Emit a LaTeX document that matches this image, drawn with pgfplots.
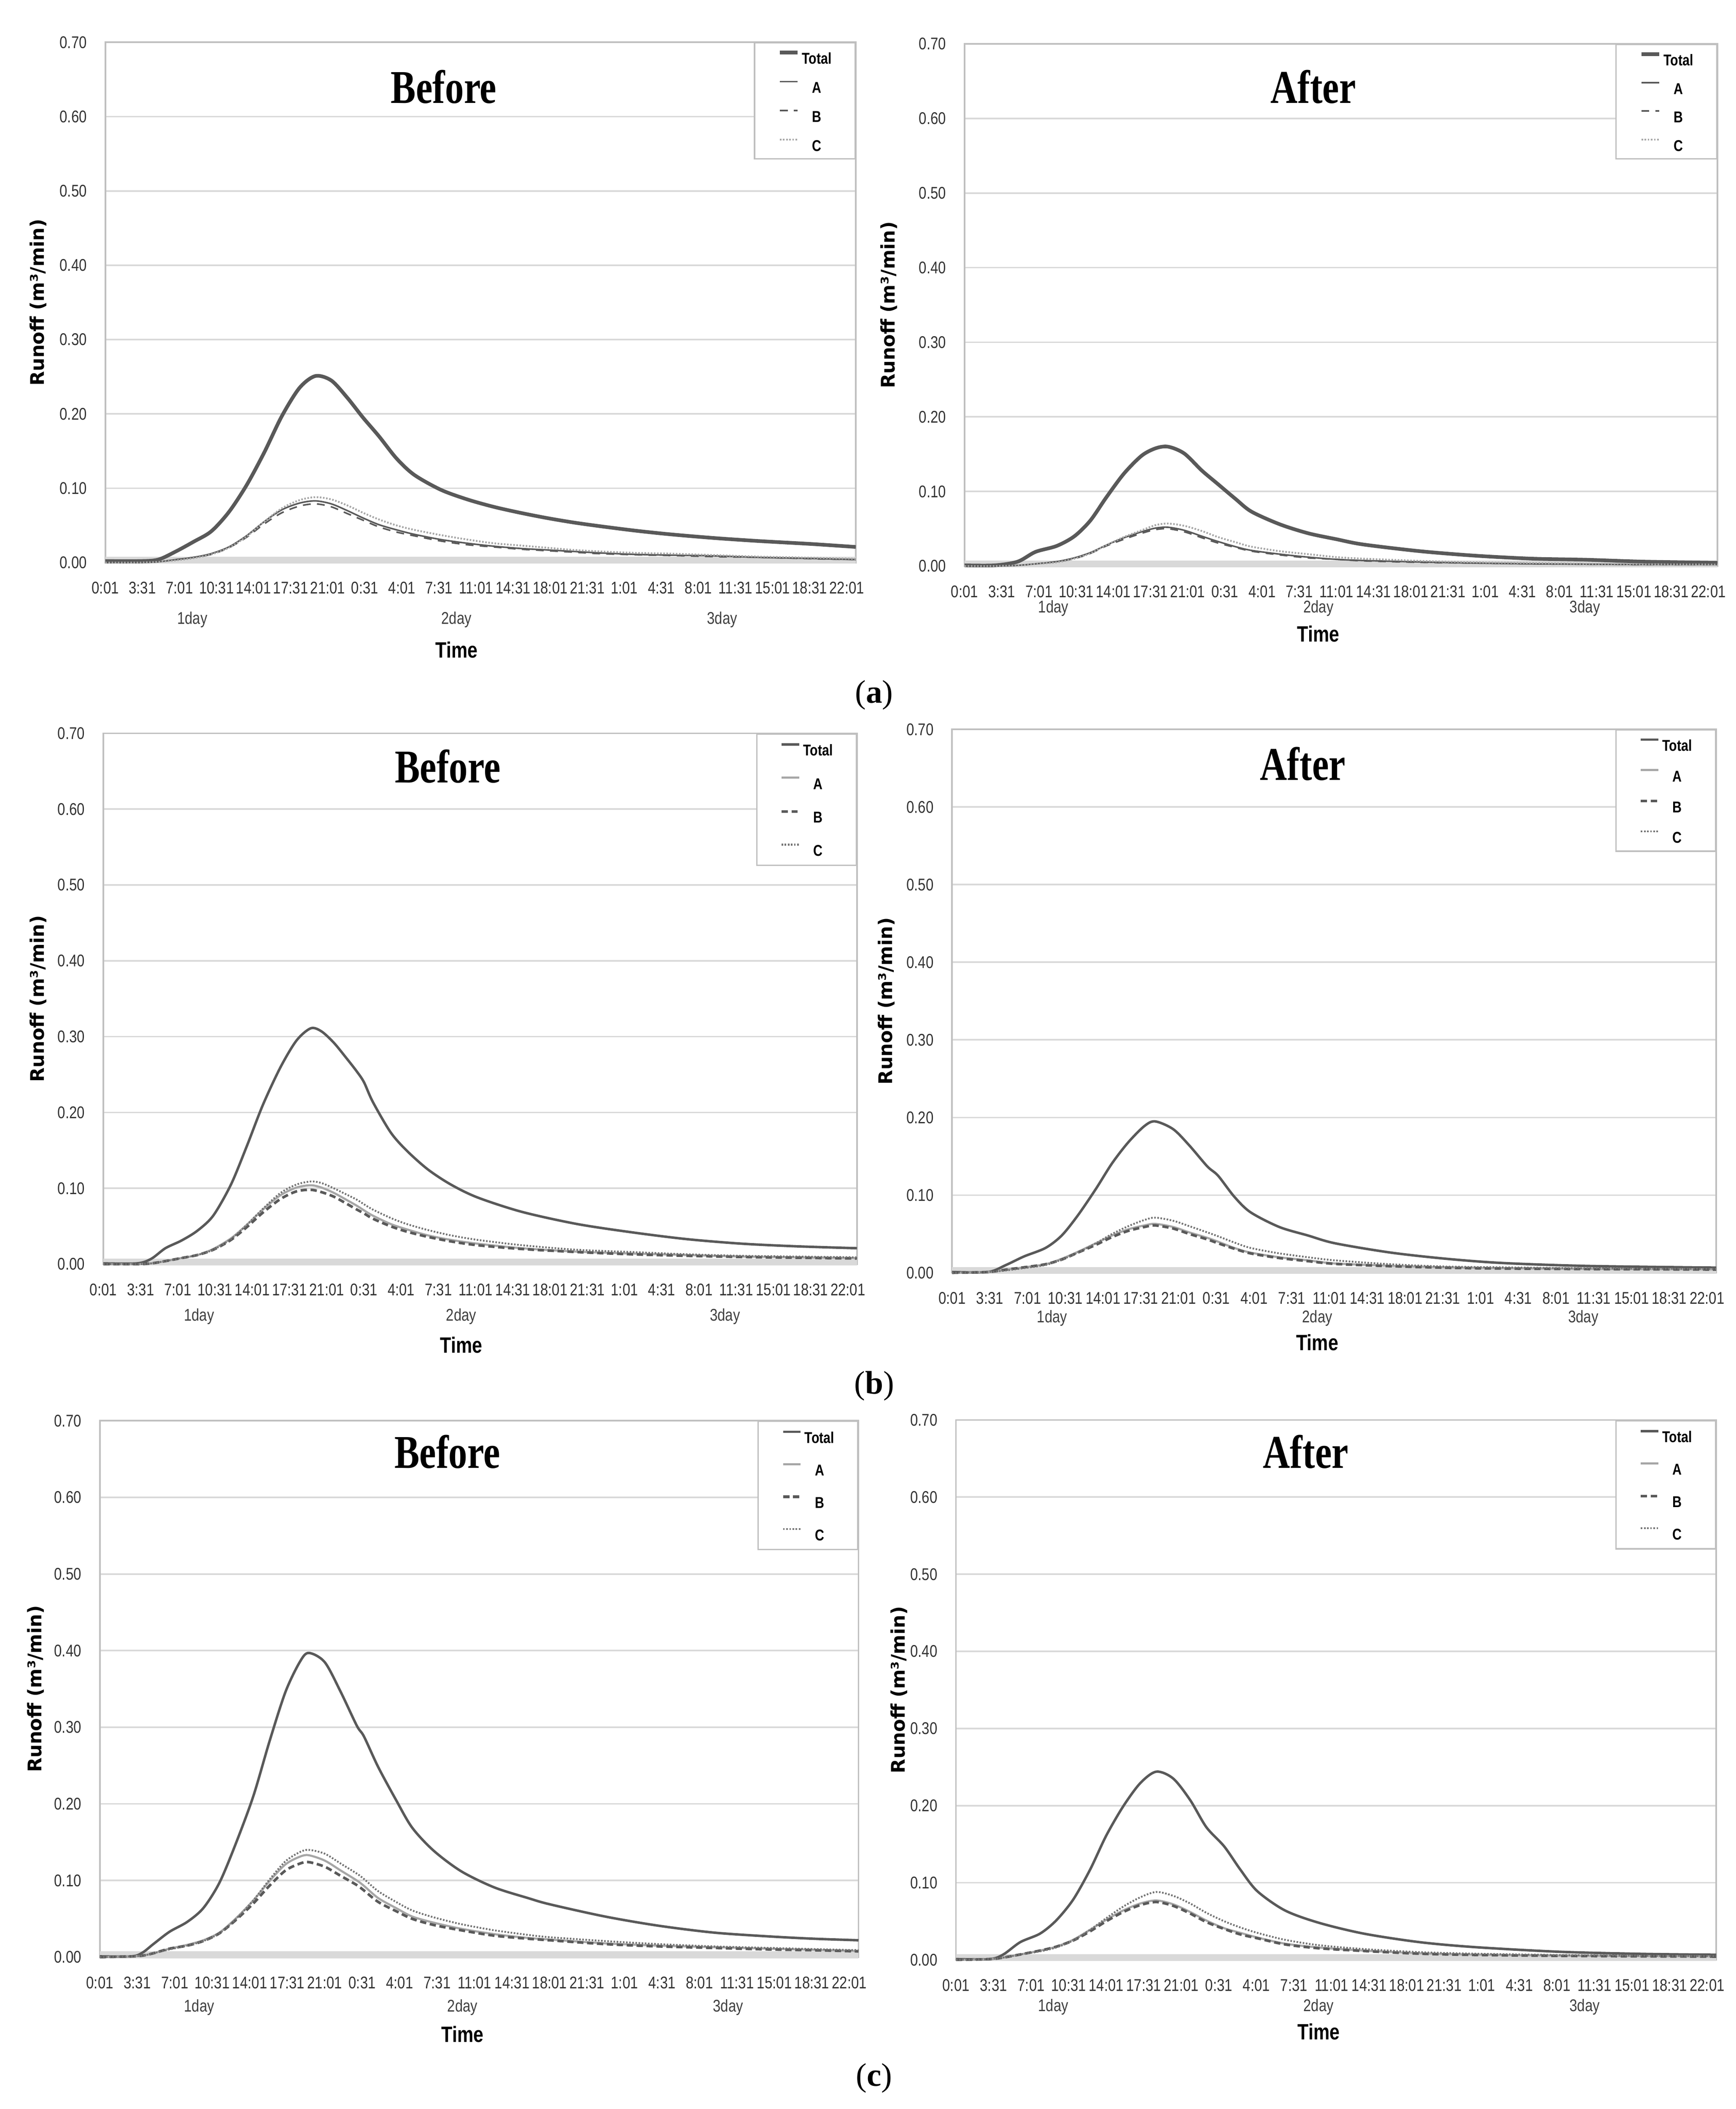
\documentclass[border=0pt]{standalone}
\usepackage{fontspec}
\usepackage{pgfplots}
\usepackage{pgfplotstable}
\pgfplotsset{compat=1.18}

\setmainfont{Liberation Serif}
\newfontfamily\narrow[FakeStretch=0.82]{Liberation Sans}
\newfontfamily\headfont[FakeStretch=0.8]{Liberation Serif}
\newfontfamily\yfont{DejaVu Sans}

\definecolor{dgray}{HTML}{595959}
\definecolor{lgray}{HTML}{A6A6A6}
\definecolor{gridgray}{HTML}{D9D9D9}
\definecolor{boxgray}{HTML}{BFBFBF}

% t = minutes after 0:01 of day 1
\pgfplotstableread{
t     tot    a      b      c
0     0.002  0.000  0.000  0.000
200   0.002  0.000  0.000  0.000
300   0.004  0.001  0.001  0.001
400   0.015  0.004  0.004  0.003
500   0.028  0.007  0.007  0.006
600   0.042  0.012  0.011  0.011
700   0.068  0.021  0.020  0.020
800   0.104  0.036  0.034  0.035
900   0.148  0.055  0.052  0.055
1000  0.197  0.071  0.067  0.073
1100  0.235  0.080  0.076  0.084
1190  0.251  0.083  0.079  0.088
1280  0.245  0.079  0.075  0.085
1370  0.222  0.070  0.066  0.077
1460  0.195  0.060  0.057  0.067
1550  0.170  0.051  0.048  0.058
1650  0.140  0.044  0.041  0.050
1750  0.118  0.038  0.036  0.044
1900  0.098  0.031  0.029  0.037
2050  0.085  0.026  0.024  0.031
2200  0.075  0.022  0.021  0.026
2350  0.067  0.019  0.018  0.023
2500  0.060  0.017  0.016  0.020
2650  0.054  0.015  0.014  0.017
2800  0.049  0.013  0.012  0.015
3000  0.043  0.011  0.0105 0.013
3200  0.038  0.010  0.0095 0.012
3450  0.033  0.009  0.008  0.010
3700  0.029  0.007  0.007  0.008
4000  0.025  0.0055 0.0052 0.0065
4251  0.021  0.004  0.004  0.005
}\aBefore

\pgfplotstableread{
t     tot     a       b       c
0     0.001   0.000   0.000   0.000
170   0.001   0.000   0.000   0.000
300   0.006   0.001   0.001   0.001
400   0.019   0.003   0.003   0.003
520   0.027   0.006   0.006   0.005
620   0.040   0.011   0.010   0.010
710   0.061   0.018   0.017   0.017
800   0.092   0.028   0.027   0.028
900   0.124   0.038   0.036   0.039
1000  0.148   0.046   0.044   0.048
1080  0.158   0.051   0.049   0.055
1150  0.160   0.052   0.050   0.057
1240  0.151   0.048   0.046   0.054
1340  0.128   0.040   0.038   0.047
1430  0.110   0.033   0.031   0.039
1530  0.090   0.026   0.025   0.032
1620  0.073   0.021   0.020   0.026
1780  0.056   0.016   0.015   0.020
1940  0.044   0.012   0.011   0.016
2100  0.036   0.009   0.009   0.012
2250  0.029   0.0075  0.007   0.010
2570  0.020   0.0055  0.005   0.007
2880  0.014   0.004   0.004   0.005
3200  0.010   0.003   0.003   0.004
3510  0.0085  0.0025  0.0025  0.003
3830  0.006   0.002   0.002   0.0025
4251  0.0045  0.002   0.002   0.002
}\aAfter

\pgfplotstableread{
t     tot     a       b       c
0     0.001   0.000   0.000   0.000
190   0.001   0.000   0.000   0.000
270   0.007   0.001   0.001   0.001
350   0.021   0.004   0.004   0.004
440   0.031   0.008   0.008   0.008
530   0.044   0.012   0.012   0.012
620   0.064   0.020   0.019   0.019
720   0.105   0.034   0.032   0.033
810   0.156   0.052   0.049   0.052
900   0.210   0.072   0.068   0.073
1000  0.260   0.091   0.086   0.094
1090  0.295   0.101   0.096   0.105
1170  0.311   0.104   0.098   0.109
1230  0.307   0.101   0.095   0.107
1300  0.292   0.094   0.089   0.100
1370  0.272   0.085   0.080   0.092
1430  0.254   0.077   0.072   0.085
1470  0.240   0.071   0.067   0.079
1520  0.214   0.064   0.060   0.072
1620  0.174   0.053   0.050   0.061
1710  0.150   0.046   0.043   0.053
1830  0.125   0.038   0.036   0.045
1960  0.105   0.032   0.030   0.038
2110  0.088   0.027   0.025   0.032
2360  0.069   0.021   0.020   0.025
2670  0.053   0.0165  0.016   0.019
2980  0.042   0.014   0.013   0.016
3290  0.033   0.012   0.011   0.013
3600  0.027   0.010   0.0095  0.011
3910  0.0235  0.009   0.0085  0.010
4251  0.021   0.008   0.0075  0.009
}\bBefore

\pgfplotstableread{
t     tot     a       b       c
0     0.001   0.000   0.000   0.000
200   0.001   0.001   0.001   0.001
300   0.010   0.004   0.004   0.003
400   0.021   0.007   0.007   0.006
520   0.032   0.011   0.011   0.010
610   0.048   0.018   0.017   0.017
700   0.074   0.027   0.026   0.026
800   0.108   0.038   0.036   0.038
890   0.141   0.048   0.046   0.050
980   0.168   0.056   0.054   0.060
1070  0.189   0.061   0.059   0.068
1130  0.195   0.063   0.061   0.071
1230  0.185   0.059   0.057   0.067
1320  0.164   0.052   0.050   0.060
1420  0.137   0.045   0.043   0.052
1480  0.125   0.040   0.038   0.047
1570  0.098   0.032   0.031   0.039
1660  0.078   0.026   0.025   0.032
1820  0.059   0.020   0.019   0.025
1980  0.048   0.016   0.015   0.020
2130  0.038   0.012   0.0115  0.016
2440  0.026   0.009   0.0085  0.011
2750  0.018   0.007   0.0065  0.008
3060  0.0126  0.006   0.0055  0.007
3530  0.0088  0.005   0.0048  0.0058
4251  0.0066  0.0044  0.0042  0.005
}\bAfter

\pgfplotstableread{
t     tot    a      b       c
0     0.001  0.000  0.000   0.000
180   0.001  0.001  0.001   0.001
240   0.006  0.002  0.002   0.002
300   0.017  0.005  0.005   0.005
390   0.033  0.011  0.011   0.010
490   0.046  0.016  0.015   0.015
580   0.064  0.022  0.021   0.021
670   0.097  0.032  0.031   0.031
760   0.147  0.050  0.048   0.049
860   0.210  0.074  0.070   0.074
950   0.281  0.099  0.093   0.101
1040  0.346  0.121  0.113   0.125
1120  0.385  0.131  0.122   0.137
1170  0.397  0.133  0.124   0.140
1260  0.385  0.126  0.118   0.135
1350  0.346  0.113  0.106   0.122
1440  0.302  0.100  0.094   0.109
1480  0.288  0.093  0.087   0.102
1560  0.248  0.077  0.072   0.086
1660  0.205  0.064  0.060   0.072
1750  0.169  0.053  0.050   0.061
1870  0.139  0.045  0.042   0.052
2025  0.112  0.037  0.035   0.043
2210  0.091  0.030  0.028   0.035
2400  0.077  0.025  0.024   0.029
2520  0.069  0.023  0.022   0.026
2830  0.053  0.018  0.017   0.021
3130  0.041  0.015  0.014   0.017
3440  0.032  0.013  0.012   0.014
3750  0.027  0.011  0.010   0.012
4000  0.024  0.0095 0.009   0.0105
4251  0.022  0.008  0.0075  0.009
}\cBefore

\pgfplotstableread{
t     tot     a       b       c
0     0.001   0.000   0.000   0.000
190   0.001   0.001   0.001   0.001
265   0.007   0.003   0.003   0.003
360   0.023   0.007   0.007   0.007
470   0.034   0.012   0.012   0.011
560   0.051   0.017   0.017   0.016
655   0.078   0.026   0.025   0.025
750   0.117   0.039   0.037   0.039
840   0.161   0.052   0.050   0.054
935   0.199   0.064   0.062   0.069
1030  0.229   0.073   0.071   0.081
1120  0.244   0.077   0.075   0.088
1215  0.235   0.072   0.070   0.083
1310  0.207   0.062   0.060   0.073
1400  0.172   0.051   0.049   0.061
1500  0.147   0.041   0.040   0.050
1590  0.117   0.035   0.033   0.042
1685  0.089   0.029   0.028   0.035
1840  0.064   0.021   0.020   0.026
2030  0.048   0.016   0.015   0.019
2280  0.034   0.012   0.0115  0.014
2590  0.023   0.0085  0.008   0.010
2900  0.0165  0.0068  0.0064  0.008
3370  0.0105  0.0055  0.0052  0.0063
3840  0.0077  0.0048  0.0046  0.0054
4251  0.0066  0.0044  0.0042  0.0048
}\cAfter

\pgfplotsset{
  legend image code/.code={\draw[#1] (0pt,2.2pt) -- (6.75pt,2.2pt);},
  panel/.style={
    scale only axis, anchor=north west, clip=false, no markers,
    xmin=0, xmax=4251, ymin=0, ymax=0.7,
    xtick={0,210,...,4200},
    xticklabels={0:01,3:31,7:01,10:31,14:01,17:31,21:01,0:31,4:01,7:31,11:01,14:31,18:01,21:31,1:01,4:31,8:01,11:31,15:01,18:31,22:01},
    ytick={0,0.1,0.2,0.3,0.4,0.5,0.6,0.7},
    major tick length=0pt,
    ymajorgrids, major grid style={gridgray, line width=0.6pt},
    axis line style={boxgray, line width=0.6pt},
    tick label style={font=\narrow\fontsize{6.5}{7}\selectfont, text=black!80, inner sep=0pt},
    x tick label style={anchor=center, yshift=-9.75pt},
    y tick label style={anchor=east, xshift=-6.9pt, /pgf/number format/.cd, fixed, fixed zerofill, precision=2, assume math mode=true},
    extra y ticks={0.003}, extra y tick labels={},
    extra y tick style={ymajorgrids=true, major grid style={gridgray, line width=2.6pt}},
    legend cell align=center,
    legend style={at={(1,1)}, anchor=north east, draw=boxgray, line width=0.5pt, fill=white,
      font=\narrow\bfseries\fontsize{6}{6}\selectfont, inner xsep=9pt, inner ysep=3pt,
      row sep=6.4pt, column sep=1pt,
      nodes={inner sep=0pt, text height=4.4pt, text depth=0pt}},
  },
  % panel (a) lines
  tA/.style={dgray, line width=1.4pt, smooth},
  aA/.style={dgray, line width=0.6pt, smooth},
  bA/.style={dgray, line width=0.6pt, dash pattern=on 3pt off 2.4pt, smooth},
  cA/.style={lgray, line width=0.7pt, dash pattern=on 0.6pt off 0.6pt, smooth},
  % panels (b) and (c) lines
  tB/.style={dgray, line width=0.95pt, smooth},
  aB/.style={lgray, line width=0.8pt, smooth},
  bB/.style={dgray, line width=1pt, dash pattern=on 2.4pt off 1.4pt, smooth},
  cB/.style={black!55, line width=0.7pt, dash pattern=on 0.6pt off 0.6pt, smooth},
}

\newcommand\titletxt[1]{\headfont\bfseries\fontsize{18}{18}\selectfont #1}
\newcommand\smalltxt{\narrow\fontsize{6.5}{7}\selectfont}
\newcommand\timetxt{\narrow\bfseries\fontsize{8.5}{9}\selectfont}
\newcommand\ytxt{\yfont\bfseries\fontsize{7.2}{8}\selectfont}

\begin{document}
\begin{tikzpicture}
\useasboundingbox (0,0) rectangle (665.1pt,-808.05pt);

% ---------- (a) before ----------
\begin{axis}[panel, at={(40.35pt,-16.2pt)}, width=287.55pt, height=199.35pt]
  \addplot[tA] table[x=t,y=tot]{\aBefore}; \addlegendentry{Total}
  \addplot[aA] table[x=t,y=a]{\aBefore};   \addlegendentry{A}
  \addplot[bA] table[x=t,y=b]{\aBefore};   \addlegendentry{B}
  \addplot[cA] table[x=t,y=c]{\aBefore};   \addlegendentry{C}
  \node[font=\titletxt{}] at (rel axis cs:0.451,0.914) {Before};
  \node[font=\smalltxt, text=black!75] at ([yshift=-21.9pt]rel axis cs:0.116,0) {1day};
  \node[font=\smalltxt, text=black!75] at ([yshift=-21.9pt]rel axis cs:0.468,0) {2day};
  \node[font=\smalltxt, text=black!75] at ([yshift=-21.9pt]rel axis cs:0.822,0) {3day};
  \node[font=\timetxt] at ([yshift=-33.45pt]rel axis cs:0.468,0) {Time};
  \node[font=\ytxt, rotate=90] at ([xshift=-25.65pt]rel axis cs:0,0.5) {Runoff\,\,(m³/min)};
\end{axis}

% ---------- (a) after ----------
\begin{axis}[panel, at={(369.6pt,-16.8pt)}, width=288.45pt, height=200.1pt,
  legend style={row sep=6.2pt}]
  \addplot[tA] table[x=t,y=tot]{\aAfter}; \addlegendentry{Total}
  \addplot[aA] table[x=t,y=a]{\aAfter};   \addlegendentry{A}
  \addplot[bA] table[x=t,y=b]{\aAfter};   \addlegendentry{B}
  \addplot[cA] table[x=t,y=c]{\aAfter};   \addlegendentry{C}
  \node[font=\titletxt{}] at (rel axis cs:0.463,0.918) {After};
  \node[font=\smalltxt, text=black!75] at ([yshift=-16.2pt]rel axis cs:0.118,0) {1day};
  \node[font=\smalltxt, text=black!75] at ([yshift=-16.2pt]rel axis cs:0.470,0) {2day};
  \node[font=\smalltxt, text=black!75] at ([yshift=-16.2pt]rel axis cs:0.824,0) {3day};
  \node[font=\timetxt] at ([yshift=-25.95pt]rel axis cs:0.470,0) {Time};
  \node[font=\ytxt, rotate=90] at ([xshift=-28.95pt]rel axis cs:0,0.5) {Runoff\,\,(m³/min)};
\end{axis}

% ---------- (b) before ----------
\begin{axis}[panel, at={(39.6pt,-280.95pt)}, width=288.75pt, height=203.4pt,
  legend style={row sep=8pt, inner ysep=3.5pt}]
  \addplot[tB] table[x=t,y=tot]{\bBefore}; \addlegendentry{Total}
  \addplot[aB] table[x=t,y=a]{\bBefore};   \addlegendentry{A}
  \addplot[bB] table[x=t,y=b]{\bBefore};   \addlegendentry{B}
  \addplot[cB] table[x=t,y=c]{\bBefore};   \addlegendentry{C}
  \node[font=\titletxt{}] at (rel axis cs:0.457,0.938) {Before};
  \node[font=\smalltxt, text=black!75] at ([yshift=-20pt]rel axis cs:0.127,0) {1day};
  \node[font=\smalltxt, text=black!75] at ([yshift=-20pt]rel axis cs:0.475,0) {2day};
  \node[font=\smalltxt, text=black!75] at ([yshift=-20pt]rel axis cs:0.825,0) {3day};
  \node[font=\timetxt] at ([yshift=-31pt]rel axis cs:0.475,0) {Time};
  \node[font=\ytxt, rotate=90] at ([xshift=-24.9pt]rel axis cs:0,0.5) {Runoff\,\,(m³/min)};
\end{axis}

% ---------- (b) after ----------
\begin{axis}[panel, at={(364.8pt,-279.45pt)}, width=292.8pt, height=208.2pt,
  legend style={row sep=6.9pt, inner ysep=3.2pt}]
  \addplot[tB] table[x=t,y=tot]{\bAfter}; \addlegendentry{Total}
  \addplot[aB] table[x=t,y=a]{\bAfter};   \addlegendentry{A}
  \addplot[bB] table[x=t,y=b]{\bAfter};   \addlegendentry{B}
  \addplot[cB] table[x=t,y=c]{\bAfter};   \addlegendentry{C}
  \node[font=\titletxt{}] at (rel axis cs:0.459,0.937) {After};
  \node[font=\smalltxt, text=black!75] at ([yshift=-17.4pt]rel axis cs:0.131,0) {1day};
  \node[font=\smalltxt, text=black!75] at ([yshift=-17.4pt]rel axis cs:0.478,0) {2day};
  \node[font=\smalltxt, text=black!75] at ([yshift=-17.4pt]rel axis cs:0.826,0) {3day};
  \node[font=\timetxt] at ([yshift=-26.7pt]rel axis cs:0.478,0) {Time};
  \node[font=\ytxt, rotate=90] at ([xshift=-25.2pt]rel axis cs:0,0.5) {Runoff\,\,(m³/min)};
\end{axis}

% ---------- (c) before ----------
\begin{axis}[panel, at={(38.25pt,-544.35pt)}, width=290.7pt, height=205.5pt,
  legend style={row sep=7.6pt, inner ysep=3.5pt}]
  \addplot[tB] table[x=t,y=tot]{\cBefore}; \addlegendentry{Total}
  \addplot[aB] table[x=t,y=a]{\cBefore};   \addlegendentry{A}
  \addplot[bB] table[x=t,y=b]{\cBefore};   \addlegendentry{B}
  \addplot[cB] table[x=t,y=c]{\cBefore};   \addlegendentry{C}
  \node[font=\titletxt{}] at (rel axis cs:0.458,0.942) {Before};
  \node[font=\smalltxt, text=black!75] at ([yshift=-19.2pt]rel axis cs:0.131,0) {1day};
  \node[font=\smalltxt, text=black!75] at ([yshift=-19.2pt]rel axis cs:0.478,0) {2day};
  \node[font=\smalltxt, text=black!75] at ([yshift=-19.2pt]rel axis cs:0.828,0) {3day};
  \node[font=\timetxt] at ([yshift=-29.6pt]rel axis cs:0.478,0) {Time};
  \node[font=\ytxt, rotate=90] at ([xshift=-24.6pt]rel axis cs:0,0.5) {Runoff\,\,(m³/min)};
\end{axis}

% ---------- (c) after ----------
\begin{axis}[panel, at={(366.3pt,-544.05pt)}, width=291.3pt, height=206.85pt,
  legend style={row sep=7.6pt, inner ysep=3.5pt}]
  \addplot[tB] table[x=t,y=tot]{\cAfter}; \addlegendentry{Total}
  \addplot[aB] table[x=t,y=a]{\cAfter};   \addlegendentry{A}
  \addplot[bB] table[x=t,y=b]{\cAfter};   \addlegendentry{B}
  \addplot[cB] table[x=t,y=c]{\cAfter};   \addlegendentry{C}
  \node[font=\titletxt{}] at (rel axis cs:0.46,0.941) {After};
  \node[font=\smalltxt, text=black!75] at ([yshift=-18pt]rel axis cs:0.128,0) {1day};
  \node[font=\smalltxt, text=black!75] at ([yshift=-18pt]rel axis cs:0.477,0) {2day};
  \node[font=\smalltxt, text=black!75] at ([yshift=-18pt]rel axis cs:0.827,0) {3day};
  \node[font=\timetxt] at ([yshift=-27.5pt]rel axis cs:0.477,0) {Time};
  \node[font=\ytxt, rotate=90] at ([xshift=-21.8pt]rel axis cs:0,0.5) {Runoff\,\,(m³/min)};
\end{axis}

% sub-figure captions
\node[font=\fontsize{12.5}{13}\selectfont] at (334.95pt,-266.25pt) {(\textbf{a})};
\node[font=\fontsize{12.5}{13}\selectfont] at (334.95pt,-531pt) {(\textbf{b})};
\node[font=\fontsize{12.5}{13}\selectfont] at (334.95pt,-796.2pt) {(\textbf{c})};
\end{tikzpicture}
\end{document}
